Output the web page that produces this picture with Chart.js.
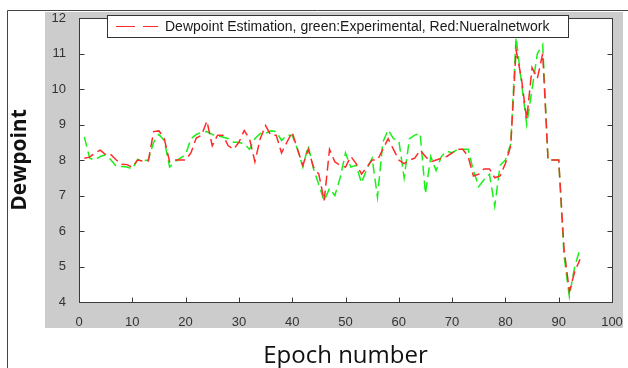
<!DOCTYPE html>
<html>
<head>
<meta charset="utf-8">
<script src="https://cdn.jsdelivr.net/npm/chart.js@4.4.0/dist/chart.umd.min.js"></script>
<style>
    html, body { margin: 0; padding: 0; background: #fff; }
    #wrap { width: 628px; height: 368px; }
</style>
</head>
<body>
<div id="wrap"><canvas id="dewChart" width="628" height="368"></canvas></div>
<script>
// ==================== DATA ====================
// Epoch numbers along the x axis
const epochs = [
    1, 2, 3, 4, 5, 6, 7, 8, 9, 10,
    11, 12, 13, 14, 15, 16, 17, 18, 19, 20,
    21, 22, 23, 24, 25, 26, 27, 28, 29, 30,
    31, 32, 33, 34, 35, 36, 37, 38, 39, 40,
    41, 42, 43, 44, 45, 46, 47, 48, 49, 50,
    51, 52, 53, 54, 55, 56, 57, 58, 59, 60,
    61, 62, 63, 64, 65, 66, 67, 68, 69, 70,
    71, 72, 73, 74, 75, 76, 77, 78, 79, 80,
    81, 82, 83, 84, 85, 86, 87, 88, 89, 90,
    91, 92, 93, 94
];

// green: experimental dewpoint
const experimental = [
    8.65, 8.05, 8.0, 8.1, 8.15, 8.0, 7.82, 7.82, 7.8, 7.75,
    8.02, 7.98, 8.0, 8.5, 8.72, 8.55, 7.8, 7.95, 8.05, 8.15,
    8.6, 8.72, 8.78, 8.8, 8.72, 8.68, 8.65, 8.6, 8.5, 8.5,
    8.45, 8.3, 8.6, 8.75, 8.75, 8.82, 8.8, 8.55, 8.7, 8.7,
    8.3, 7.8, 8.4, 7.75, 7.3, 6.85, 7.2, 7.0, 7.5, 8.2,
    7.8, 7.85, 7.35, 7.75, 8.05, 6.95, 8.5, 8.85, 8.6, 8.55,
    7.5, 8.6, 8.7, 8.75, 7.05, 8.1, 7.7, 8.1, 8.25, 8.2,
    8.3, 8.3, 8.3, 7.7, 7.25, 7.45, 7.6, 6.7, 7.85, 8.0,
    8.45, 11.45, 10.2, 9.0, 10.0, 11.0, 11.25, 8.0, 8.0, 8.0,
    5.3, 4.15, 5.0, 5.5
];

// red: neural network estimate
const neural = [
    8.05, 8.08, 8.2, 8.28, 8.15, 8.15, 8.0, 7.88, 7.87, 7.8,
    8.0, 7.97, 7.97, 8.8, 8.82, 8.6, 7.95, 8.0, 8.0, 8.0,
    8.2, 8.62, 8.7, 9.1, 8.4, 8.7, 8.7, 8.4, 8.3, 8.5,
    8.83, 8.6, 7.95, 8.6, 8.97, 8.7, 8.7, 8.2, 8.5, 8.78,
    8.3, 7.85, 8.3, 7.8, 7.6, 6.85, 8.3, 7.95, 7.85, 7.8,
    8.1, 7.9, 7.6, 7.8, 8.0, 8.0, 8.3, 8.6, 8.3, 8.0,
    7.9, 8.0, 8.05, 8.28, 8.1, 7.95, 8.0, 8.05, 8.1, 8.2,
    8.3, 8.3, 8.1, 7.55, 7.6, 7.75, 7.75, 7.5, 7.55, 7.9,
    8.4, 11.1, 10.3, 9.15, 10.6, 10.3, 11.0, 8.0, 8.0, 8.0,
    5.5, 4.3, 4.85, 5.2
];

const xTicks = [0, 10, 20, 30, 40, 50, 60, 70, 80, 90, 100];
const yTicks = [4, 5, 6, 7, 8, 9, 10, 11, 12];
const legendText = 'Dewpoint Estimation, green:Experimental, Red:Nueralnetwork';

// ==================== STYLE ====================
const colors = {
    red: '#ff2a2a',
    green: '#18f018',
    axis: '#3a3a3a',
    panel: '#cccccc',
    tickText: '#333333'
};

// MATLAB-like figure: gray panel, boxed axes with inward ticks, legend inside the box
const matlabFrame = {
    id: 'matlabFrame',
    beforeDraw(chart) {
        const { ctx, chartArea: a } = chart;
        ctx.save();
        ctx.fillStyle = '#fff';
        ctx.fillRect(0, 0, chart.width, chart.height);
        // outer figure border (top and left edges are visible)
        ctx.strokeStyle = '#444';
        ctx.lineWidth = 1;
        ctx.beginPath();
        ctx.moveTo(7.5, chart.height);
        ctx.lineTo(7.5, 10.5);
        ctx.lineTo(chart.width, 10.5);
        ctx.stroke();
        // gray panel behind the axes
        ctx.fillStyle = colors.panel;
        ctx.fillRect(45, 12, 578, 316);
        ctx.fillStyle = '#fff';
        ctx.fillRect(a.left, a.top, a.right - a.left, a.bottom - a.top);
        ctx.restore();
    },
    afterDraw(chart) {
        const { ctx, chartArea: a, scales } = chart;
        const l = Math.round(a.left) + 0.5, r = Math.round(a.right) + 0.5;
        const t = Math.round(a.top) + 0.5, b = Math.round(a.bottom) + 0.5;
        ctx.save();
        ctx.strokeStyle = colors.axis;
        ctx.lineWidth = 1;
        ctx.strokeRect(l, t, r - l, b - t);
        // inward tick marks on all four sides
        ctx.beginPath();
        yTicks.forEach(v => {
            const py = Math.round(scales.y.getPixelForValue(v)) + 0.5;
            ctx.moveTo(l, py); ctx.lineTo(l + 5, py);
            ctx.moveTo(r, py); ctx.lineTo(r - 5, py);
        });
        xTicks.forEach(v => {
            const px = Math.round(scales.x.getPixelForValue(v)) + 0.5;
            ctx.moveTo(px, b); ctx.lineTo(px, b - 5);
            ctx.moveTo(px, t); ctx.lineTo(px, t + 5);
        });
        ctx.stroke();

        // legend box
        const lx = 107.5, ly = 15.5, lw = 461, lh = 22;
        ctx.fillStyle = '#fff';
        ctx.fillRect(lx, ly, lw, lh);
        ctx.strokeStyle = '#333';
        ctx.strokeRect(lx, ly, lw, lh);
        ctx.strokeStyle = colors.red;
        ctx.lineWidth = 1.2;
        ctx.setLineDash([19, 8]);
        ctx.beginPath();
        ctx.moveTo(116, ly + lh / 2);
        ctx.lineTo(158, ly + lh / 2);
        ctx.stroke();
        ctx.setLineDash([]);
        ctx.fillStyle = '#1a1a1a';
        ctx.font = '14px "Liberation Sans", Arial, sans-serif';
        ctx.textBaseline = 'middle';
        ctx.textAlign = 'left';
        ctx.fillText(legendText, 165, ly + lh / 2 + 0.5);
        ctx.restore();
    }
};

const tickFont = { family: '"Liberation Sans", Arial, sans-serif', size: 13 };

new Chart(document.getElementById('dewChart'), {
    type: 'line',
    data: {
        datasets: [
            {
                label: legendText,
                data: epochs.map((e, i) => ({ x: e, y: neural[i] })),
                borderColor: colors.red,
                borderWidth: 1.5,
                borderDash: [10, 5],
                pointRadius: 0,
                tension: 0,
                fill: false
            },
            {
                label: 'Experimental',
                data: epochs.map((e, i) => ({ x: e, y: experimental[i] })),
                borderColor: colors.green,
                borderWidth: 1.5,
                borderDash: [10, 5],
                pointRadius: 0,
                tension: 0,
                fill: false
            }
        ]
    },
    options: {
        responsive: false,
        animation: false,
        layout: { padding: { left: 0, right: 16, top: 18, bottom: 0 } },
        plugins: { legend: { display: false }, tooltip: { enabled: false } },
        scales: {
            x: {
                type: 'linear', min: 0, max: 100,
                grid: { display: false }, border: { display: false },
                afterBuildTicks: s => { s.ticks = xTicks.map(v => ({ value: v })); },
                afterFit: s => { s.height = 66; },
                ticks: { padding: 5, font: tickFont, color: colors.tickText, maxRotation: 0, autoSkip: false },
                title: {
                    display: true, text: 'Epoch number', color: '#111',
                    font: { family: '"Open Sans", sans-serif', size: 24, lineHeight: 1 },
                    padding: { top: 0, bottom: 0 }
                }
            },
            y: {
                type: 'linear', min: 4, max: 12,
                grid: { display: false }, border: { display: false },
                afterBuildTicks: s => { s.ticks = yTicks.map(v => ({ value: v })); },
                afterFit: s => { s.width = 79; },
                ticks: { padding: 5, font: tickFont, color: colors.tickText },
                title: {
                    display: true, text: 'Dewpoint', color: '#111',
                    font: { family: '"Open Sans", sans-serif', size: 21, weight: 'bold', lineHeight: 1.2 },
                    padding: { top: 7, bottom: 0 }
                }
            }
        }
    },
    plugins: [matlabFrame]
});
</script>
</body>
</html>
